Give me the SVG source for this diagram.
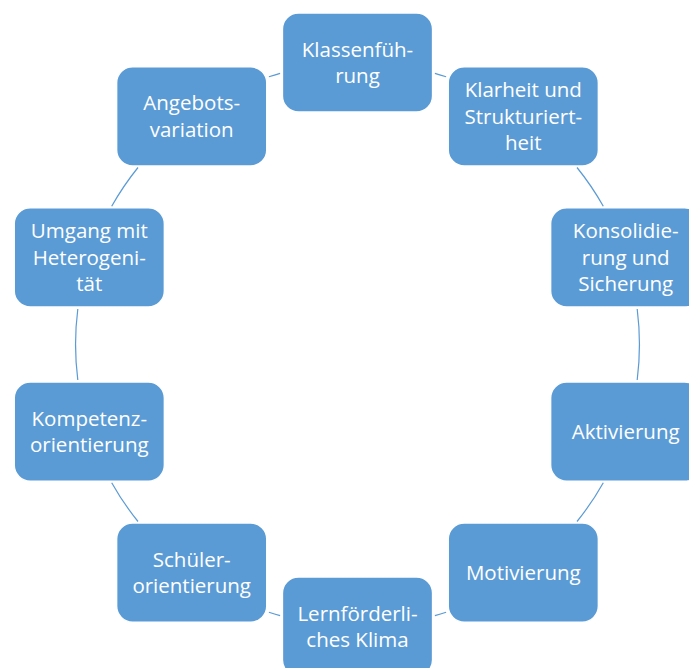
<svg xmlns="http://www.w3.org/2000/svg" width="689" height="668" viewBox="0 0 689 668">
<style>
.box{fill:#5B9BD5;stroke:#FFFFFF;stroke-width:1.3}
.lbl{font-family:"Open Sans","Noto Sans",sans-serif;font-size:20.5px;fill:#FFFFFF;text-anchor:middle}
.arc{fill:none;stroke:#5B9BD5;stroke-width:1.2}
</style>
<rect width="689" height="668" fill="#FFFFFF"/>
<g id="connectors">
<path class="arc" d="M434.9,73.3 A282,282 0 0 1 446.1,76.8"/>
<path class="arc" d="M577.0,167.5 A282,282 0 0 1 603.3,206.3"/>
<path class="arc" d="M637.2,309.0 A282,282 0 0 1 637.2,380.0"/>
<path class="arc" d="M603.3,482.7 A282,282 0 0 1 577.0,521.5"/>
<path class="arc" d="M446.1,612.2 A282,282 0 0 1 434.9,615.7"/>
<path class="arc" d="M280.1,615.7 A282,282 0 0 1 268.9,612.2"/>
<path class="arc" d="M138.0,521.5 A282,282 0 0 1 111.7,482.7"/>
<path class="arc" d="M77.8,380.0 A282,282 0 0 1 77.8,309.0"/>
<path class="arc" d="M111.7,206.3 A282,282 0 0 1 138.0,167.5"/>
<path class="arc" d="M268.9,76.8 A282,282 0 0 1 280.1,73.3"/>
</g>
<g id="n1"><rect class="box" x="282.5" y="13" width="150" height="99" rx="16"/>
<text class="lbl" x="357.5" y="56.5">Klassenfüh-</text><text class="lbl" x="357.5" y="83">rung</text></g>
<g id="n2"><rect class="box" x="448.3" y="66.9" width="150" height="99" rx="16"/>
<text class="lbl" x="523.3" y="97.2">Klarheit und</text><text class="lbl" x="523.3" y="123.7">Strukturiert-</text><text class="lbl" x="523.3" y="150.2">heit</text></g>
<g id="n3"><rect class="box" x="550.7" y="207.9" width="150" height="99" rx="16"/>
<text class="lbl" x="625.7" y="238.2">Konsolidie-</text><text class="lbl" x="625.7" y="264.7">rung und</text><text class="lbl" x="625.7" y="291.2">Sicherung</text></g>
<g id="n4"><rect class="box" x="550.7" y="382.1" width="150" height="99" rx="16"/>
<text class="lbl" x="625.7" y="438.9">Aktivierung</text></g>
<g id="n5"><rect class="box" x="448.3" y="523.1" width="150" height="99" rx="16"/>
<text class="lbl" x="523.3" y="579.9">Motivierung</text></g>
<g id="n6"><rect class="box" x="282.5" y="577" width="150" height="99" rx="16"/>
<text class="lbl" x="357.5" y="620.5">Lernförderli-</text><text class="lbl" x="357.5" y="647">ches Klima</text></g>
<g id="n7"><rect class="box" x="116.7" y="523.1" width="150" height="99" rx="16"/>
<text class="lbl" x="191.7" y="566.6">Schüler-</text><text class="lbl" x="191.7" y="593.1">orientierung</text></g>
<g id="n8"><rect class="box" x="14.3" y="382.1" width="150" height="99" rx="16"/>
<text class="lbl" x="89.3" y="425.6">Kompetenz-</text><text class="lbl" x="89.3" y="452.1">orientierung</text></g>
<g id="n9"><rect class="box" x="14.3" y="207.9" width="150" height="99" rx="16"/>
<text class="lbl" x="89.3" y="238.2">Umgang mit</text><text class="lbl" x="89.3" y="264.7">Heterogeni-</text><text class="lbl" x="89.3" y="291.2">tät</text></g>
<g id="n10"><rect class="box" x="116.7" y="66.9" width="150" height="99" rx="16"/>
<text class="lbl" x="191.7" y="110.4">Angebots-</text><text class="lbl" x="191.7" y="136.9">variation</text></g>
</svg>
